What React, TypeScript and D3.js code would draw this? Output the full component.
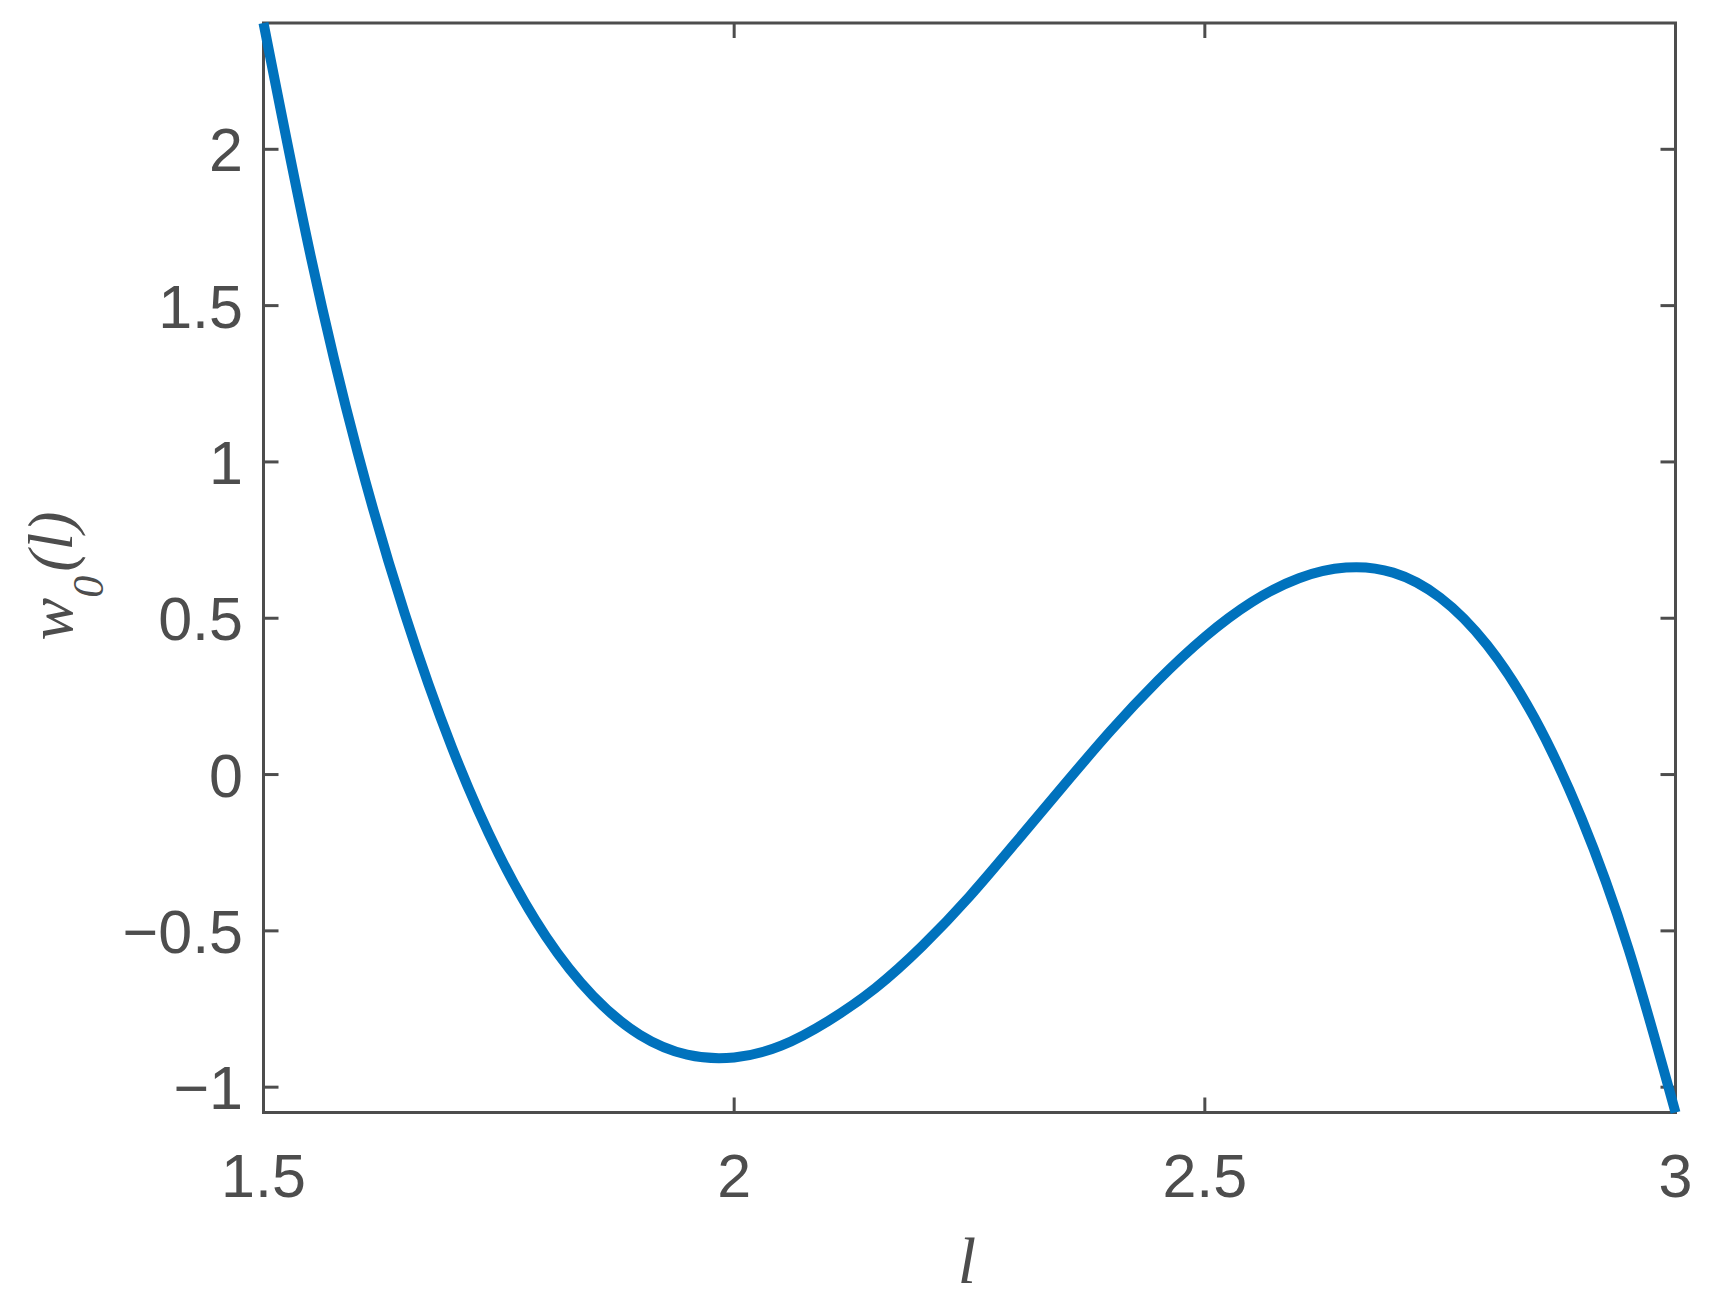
import React from "react";
import * as d3 from "d3";

const lValues = [
  1.5, 1.55, 1.6, 1.65, 1.7, 1.75, 1.8, 1.85, 1.9, 1.95, 2.0, 2.05, 2.1, 2.15, 2.2, 2.25,
  2.3, 2.35, 2.4, 2.45, 2.5, 2.55, 2.6, 2.65, 2.7, 2.75, 2.8, 2.85, 2.9, 2.95, 3.0,
];
const wValues = [
  2.404, 1.66, 1.03, 0.515, 0.088, -0.255, -0.518, -0.708, -0.833, -0.896, -0.905, -0.867, -0.788, -0.683, -0.548, -0.39,
  -0.214, -0.035, 0.14, 0.3, 0.44, 0.552, 0.628, 0.662, 0.646, 0.566, 0.414, 0.182, -0.139, -0.557, -1.081,
];
const xTicks = [1.5, 2, 2.5, 3];
const yTicks = [-1, -0.5, 0, 0.5, 1, 1.5, 2];
const xDomain = [1.5, 3];
const yDomain = [-1.081, 2.404];

const fmt = (v: number) => (v < 0 ? "\u2212" + String(Math.abs(v)) : String(v));

export default function App() {
  const W = 1710;
  const H = 1306;
  const left = 263.5;
  const right = 1675.5;
  const top = 23;
  const bottom = 1112.5;
  const axisColor = "#4d4d4d";
  const tickLen = 15;

  const x = d3.scaleLinear().domain(xDomain).range([left, right]);
  const y = d3.scaleLinear().domain(yDomain).range([bottom, top]);

  const data = lValues.map((l, i) => ({ l, w: wValues[i] }));
  const line = d3
    .line<{ l: number; w: number }>()
    .x((d) => x(d.l))
    .y((d) => y(d.w))
    .curve(d3.curveNatural);

  return (
    <svg
      width={W}
      height={H}
      viewBox={`0 0 ${W} ${H}`}
      style={{ position: "fixed", left: 0, top: 0, background: "#fff", display: "block" }}
    >
      <rect x={0} y={0} width={W} height={H} fill="#fff" />
      {xTicks.map((t) => (
        <g key={"xt" + t}>
          <line x1={x(t)} x2={x(t)} y1={bottom} y2={bottom - tickLen} stroke={axisColor} strokeWidth={3} />
          <line x1={x(t)} x2={x(t)} y1={top} y2={top + tickLen} stroke={axisColor} strokeWidth={3} />
          <text
            x={x(t)}
            y={bottom + 84}
            textAnchor="middle"
            fontFamily="'Liberation Sans', Arial, Helvetica, sans-serif"
            fontSize={61}
            fill={axisColor}
          >
            {fmt(t)}
          </text>
        </g>
      ))}
      {yTicks.map((t) => (
        <g key={"yt" + t}>
          <line x1={left} x2={left + tickLen} y1={y(t)} y2={y(t)} stroke={axisColor} strokeWidth={3} />
          <line x1={right} x2={right - tickLen} y1={y(t)} y2={y(t)} stroke={axisColor} strokeWidth={3} />
          <text
            x={243}
            y={y(t) + 22}
            textAnchor="end"
            fontFamily="'Liberation Sans', Arial, Helvetica, sans-serif"
            fontSize={61}
            fill={axisColor}
          >
            {fmt(t)}
          </text>
        </g>
      ))}
      <rect
        x={left}
        y={top}
        width={right - left}
        height={bottom - top}
        fill="none"
        stroke={axisColor}
        strokeWidth={3}
      />
      <path
        d={line(data) || ""}
        fill="none"
        stroke="#0072BD"
        strokeWidth={10}
        strokeLinejoin="round"
      />
      <text
        x={967}
        y={1283}
        textAnchor="middle"
        fontFamily="'Liberation Serif', 'Times New Roman', serif"
        fontStyle="italic"
        fontSize={66}
        fill={axisColor}
      >
        l
      </text>
      <text
        transform="translate(72,576) rotate(-90)"
        textAnchor="middle"
        fontFamily="'Liberation Serif', 'Times New Roman', serif"
        fontStyle="italic"
        fontSize={64}
        fill={axisColor}
      >
        <tspan>w</tspan>
        <tspan fontSize={44} dy={31}>0</tspan>
        <tspan dy={-31} dx={4}>(l)</tspan>
      </text>
    </svg>
  );
}
